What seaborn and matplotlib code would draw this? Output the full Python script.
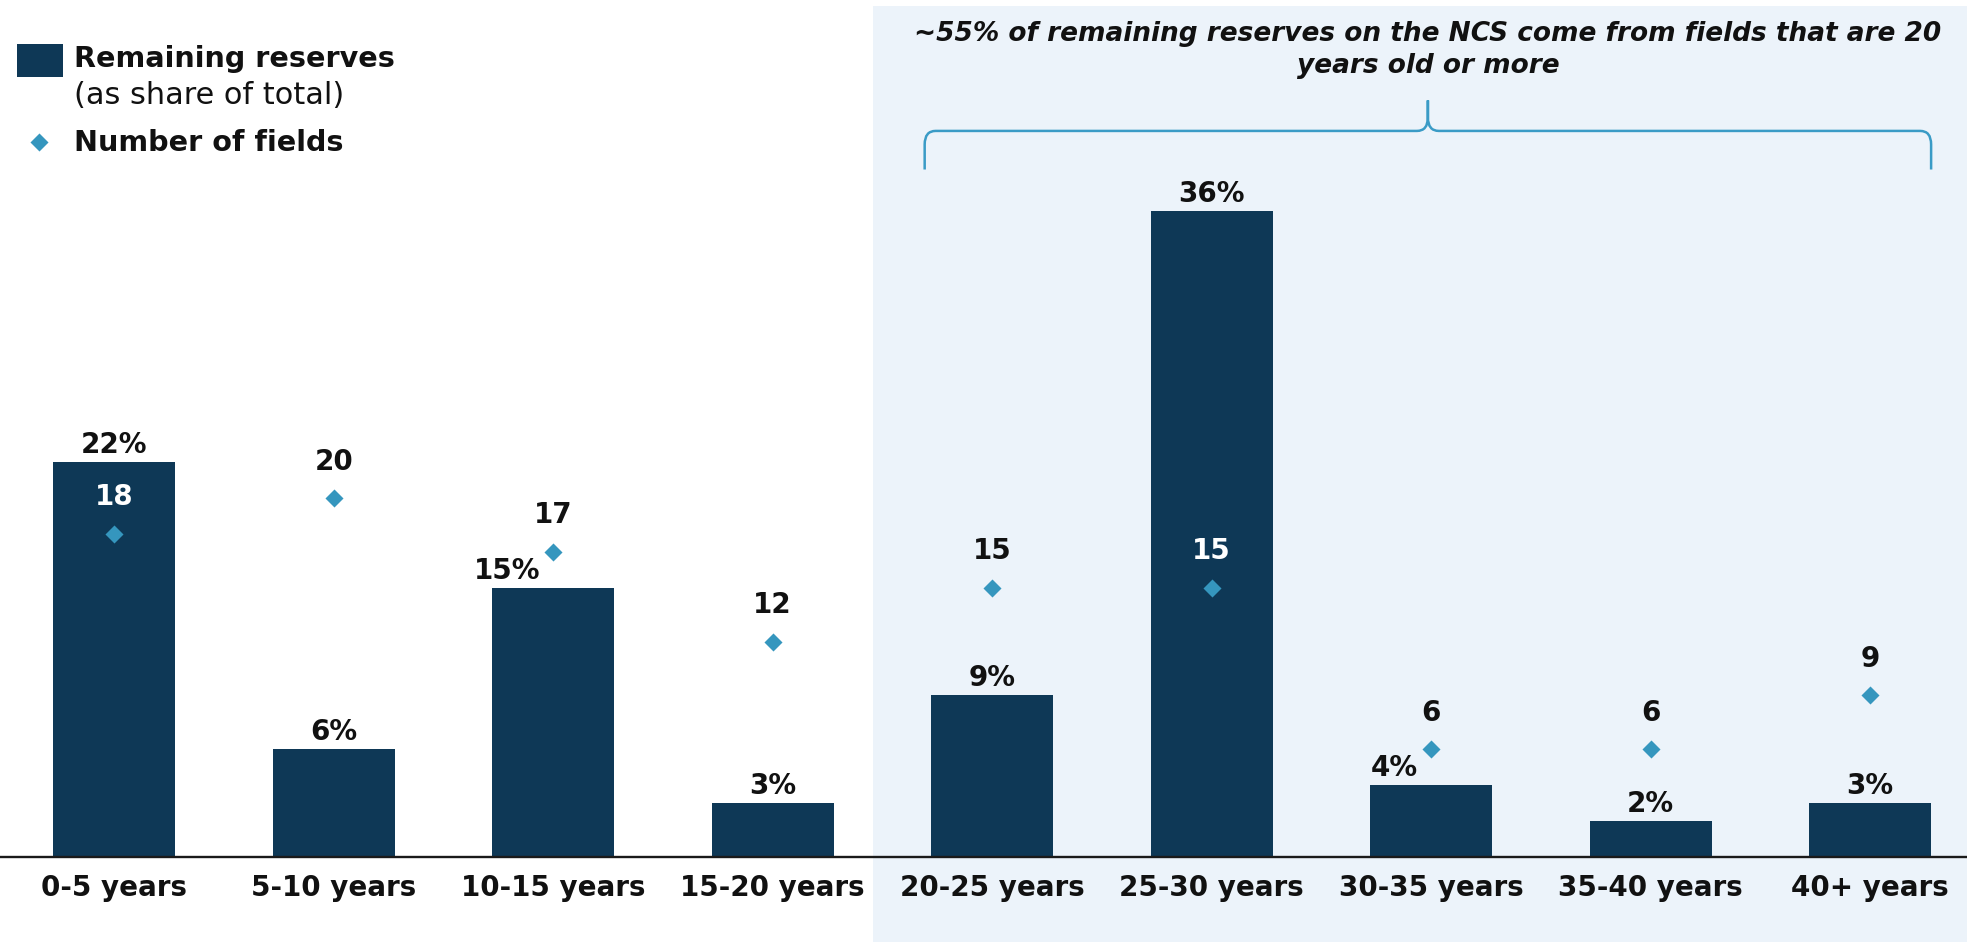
import numpy as np
import pandas as pd
import matplotlib
matplotlib.use("Agg")
import matplotlib.pyplot as plt
from matplotlib.path import Path
from matplotlib.patches import PathPatch, Rectangle
from matplotlib.lines import Line2D
from matplotlib.transforms import blended_transform_factory
import seaborn as sns

# ---- data -------------------------------------------------------------
age_groups = ["0-5 years", "5-10 years", "10-15 years", "15-20 years",
              "20-25 years", "25-30 years", "30-35 years", "35-40 years",
              "40+ years"]
reserve_share = [22, 6, 15, 3, 9, 36, 4, 2, 3]      # % of remaining reserves
field_count = [18, 20, 17, 12, 15, 15, 6, 6, 9]     # number of fields
old_fields_from = "20-25 years"                     # start of the "old fields" group
note_text = ("~55% of remaining reserves on the NCS come from fields that are 20\n"
             "years old or more")

# ---- style ------------------------------------------------------------
BAR_COLOR = "#0E3856"
POINT_COLOR = "#3596BE"
BRACE_COLOR = "#3A9BC6"
SHADE_COLOR = "#ECF3FA"
TEXT_COLOR = "#111111"
BAR_WIDTH = 0.555
LABEL_SIZE = 20
# horizontal nudges (in category units) for share labels that sit next to a point
share_label_dx = {"10-15 years": -0.21, "30-35 years": -0.17}

sns.set_theme(style="white")
plt.rcParams["font.family"] = ["DejaVu Sans"]

df = pd.DataFrame({"age": age_groups, "share": reserve_share,
                   "fields": field_count})

W, H = 1967, 942
BASE_PX = 857          # pixel row of the category axis
PX_PER_UNIT = 17.95    # vertical pixels per % / per field

fig = plt.figure(figsize=(W / 100, H / 100), dpi=100, facecolor="white")
ax = fig.add_axes([0, (H - BASE_PX) / H, 1, BASE_PX / H])
ax.set_facecolor("none")

diamond = Path([(0, 1), (1, 0), (0, -1), (-1, 0), (0, 1)],
               [Path.MOVETO, Path.LINETO, Path.LINETO, Path.LINETO, Path.CLOSEPOLY])

sns.barplot(data=df, x="age", y="share", color=BAR_COLOR, saturation=1,
            width=BAR_WIDTH, linewidth=0, ax=ax, zorder=2)
sns.pointplot(data=df, x="age", y="fields", color=POINT_COLOR, marker=diamond,
              markersize=13, markeredgewidth=0, linestyle="none",
              errorbar=None, ax=ax, zorder=4)

# shaded panel behind the older age groups (reaches down over the tick labels)
start = age_groups.index(old_fields_from)
shade_tr = blended_transform_factory(ax.transData, fig.transFigure)
ax.add_patch(Rectangle((start - 0.543, 0), 20, 1 - 6 / H, transform=shade_tr,
                       facecolor=SHADE_COLOR, linewidth=0, zorder=0,
                       clip_on=False))

ax.set_xlim(-0.52, 8.441)
ax.set_ylim(0, BASE_PX / PX_PER_UNIT)
ax.set(xlabel="", ylabel="")
ax.set_yticks([])
for side in ("top", "right", "left"):
    ax.spines[side].set_visible(False)
ax.spines["bottom"].set_color("#1a1a1a")
ax.spines["bottom"].set_linewidth(1.7)
ax.spines["bottom"].set_zorder(5)
ax.tick_params(axis="x", length=0, pad=12, labelsize=LABEL_SIZE,
               labelcolor=TEXT_COLOR)
for lbl in ax.get_xticklabels():
    lbl.set_fontweight("bold")

# value labels
for i, (age, share, n) in enumerate(zip(age_groups, reserve_share, field_count)):
    ax.annotate(f"{share}%", xy=(i + share_label_dx.get(age, 0), share),
                xytext=(0, 6.5), textcoords="offset points", ha="center",
                va="baseline", fontsize=LABEL_SIZE, fontweight="bold",
                color=TEXT_COLOR, zorder=6)
    inside = n + 25 / PX_PER_UNIT < share
    ax.annotate(f"{n}", xy=(i, n), xytext=(0, 20.5), textcoords="offset points",
                ha="center", va="baseline", fontsize=LABEL_SIZE,
                fontweight="bold", color="white" if inside else TEXT_COLOR,
                zorder=6)

# curly brace over the older age groups
xl = start - BAR_WIDTH / 2 - 0.03
xr = len(age_groups) - 1 + BAR_WIDTH / 2
xm = (xl + xr) / 2
y_h, y_end, y_tip = 40.45, 38.3, 42.15
rx, ry = 0.05, 0.75
verts = [(xl, y_end), (xl, y_h - ry), (xl, y_h), (xl + rx, y_h),
         (xm - rx, y_h), (xm, y_h), (xm, y_h + ry), (xm, y_tip),
         (xm, y_h + ry), (xm, y_h), (xm + rx, y_h),
         (xr - rx, y_h), (xr, y_h), (xr, y_h - ry), (xr, y_end)]
codes = [Path.MOVETO, Path.LINETO, Path.CURVE3, Path.CURVE3,
         Path.LINETO, Path.CURVE3, Path.CURVE3, Path.LINETO,
         Path.LINETO, Path.CURVE3, Path.CURVE3,
         Path.LINETO, Path.CURVE3, Path.CURVE3, Path.LINETO]
ax.add_patch(PathPatch(Path(verts, codes), facecolor="none",
                       edgecolor=BRACE_COLOR, linewidth=1.8, zorder=3,
                       clip_on=False))

ax.text(xm, 1 - 50 / H, note_text, transform=shade_tr, ha="center",
        va="center", fontsize=19, fontweight="bold", fontstyle="italic",
        linespacing=1.3, color=TEXT_COLOR)

# legend
fig.add_artist(Rectangle((17 / W, 1 - 77 / H), 46 / W, 33 / H,
                         transform=fig.transFigure, facecolor=BAR_COLOR,
                         linewidth=0))
fig.add_artist(Line2D([39 / W], [1 - 142 / H], transform=fig.transFigure,
                      marker=diamond, markersize=13, markeredgewidth=0,
                      color=POINT_COLOR, linestyle="none"))
fig.text(74 / W, 1 - 67 / H, "Remaining reserves", fontsize=20.6,
         fontweight="bold", va="baseline", color=TEXT_COLOR)
fig.text(74 / W, 1 - 104 / H, "(as share of total)", fontsize=21.9,
         va="baseline", color=TEXT_COLOR)
fig.text(74 / W, 1 - 151 / H, "Number of fields", fontsize=20.6,
         fontweight="bold", va="baseline", color=TEXT_COLOR)

fig.savefig("out.png", dpi=100, facecolor="white")
